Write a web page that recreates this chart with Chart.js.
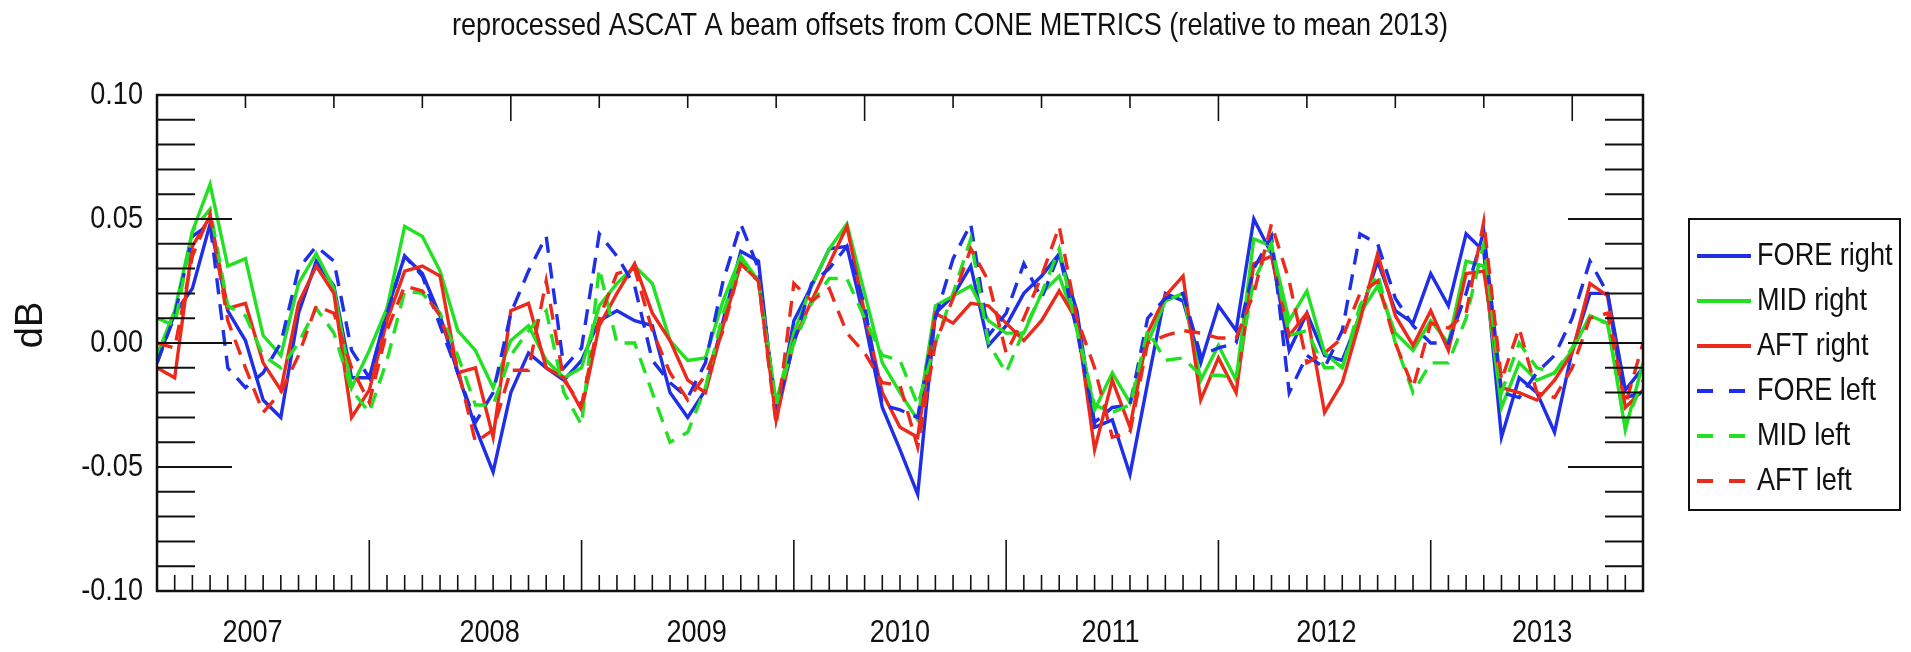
<!DOCTYPE html>
<html>
<head>
<meta charset="utf-8">
<script src="https://cdn.jsdelivr.net/npm/chart.js@4"></script>
<style>
html,body{margin:0;padding:0;background:#fff;}
#wrap{width:1911px;height:652px;}
</style>
</head>
<body>
<div id="wrap"><canvas id="c" width="1911" height="652"></canvas></div>
<script>
// ---- data (monthly, month index 0 = Jan 2007) ----
const seriesNames = ['FORE right','MID right','AFT right','FORE left','MID left','AFT left'];

const foreRight = [-0.008,0.012,0.022,0.048,0.013,0.001,-0.023,-0.030,0.012,0.033,0.023,-0.014,-0.014,0.013,0.035,
 0.028,0.011,-0.012,-0.034,-0.052,-0.020,-0.004,-0.010,-0.015,-0.007,0.009,0.013,0.009,0.007,
 -0.020,-0.030,-0.019,0.009,0.037,0.033,-0.030,0.009,0.023,0.038,0.039,0.009,-0.026,-0.043,
 -0.061,0.012,0.019,0.031,-0.001,0.007,0.020,0.027,0.036,0.013,-0.034,-0.031,-0.053,-0.016,
 0.020,0.017,-0.008,0.015,0.005,0.050,0.036,-0.003,0.012,-0.005,-0.007,0.011,0.033,0.013,
 0.008,0.028,0.015,0.044,0.037,-0.038,-0.014,-0.020,-0.036,-0.003,0.020,0.020,-0.019,-0.010];

const midRight = [-0.005,0.013,0.045,0.064,0.031,0.034,0.003,-0.005,0.024,0.036,0.022,-0.018,-0.003,0.014,0.047,
 0.043,0.029,0.005,-0.003,-0.018,0.001,0.007,-0.007,-0.014,-0.010,0.015,0.024,0.031,0.024,
 0.001,-0.007,-0.006,0.017,0.035,0.025,-0.024,0.004,0.023,0.038,0.048,0.020,-0.008,-0.020,
 -0.031,0.015,0.019,0.023,0.009,0.004,0.004,0.020,0.027,0.007,-0.027,-0.012,-0.024,0.000,
 0.017,0.020,-0.015,-0.001,-0.015,0.042,0.039,0.009,0.021,-0.004,-0.010,0.012,0.023,0.004,
 -0.003,0.009,0.000,0.033,0.031,-0.026,-0.008,-0.015,-0.012,-0.003,0.011,0.008,-0.035,-0.008];

const aftRight = [-0.010,-0.014,0.039,0.051,0.014,0.016,-0.008,-0.019,0.016,0.031,0.020,-0.030,-0.019,0.009,0.029,
 0.031,0.027,-0.012,-0.010,-0.038,0.013,0.016,-0.010,-0.014,-0.027,0.007,0.020,0.032,0.012,
 0.001,-0.015,-0.020,0.007,0.032,0.025,-0.031,0.001,0.017,0.032,0.047,0.012,-0.020,-0.034,
 -0.038,0.012,0.008,0.016,0.015,0.008,0.001,0.009,0.021,0.009,-0.043,-0.015,-0.034,0.004,
 0.019,0.027,-0.023,-0.006,-0.020,0.032,0.035,0.003,0.012,-0.028,-0.016,0.009,0.036,0.011,
 -0.001,0.013,-0.003,0.028,0.029,-0.018,-0.020,-0.023,-0.015,-0.004,0.024,0.019,-0.026,-0.019];

const foreLeft = [-0.008,0.011,0.043,0.048,-0.010,-0.018,-0.012,0.000,0.030,0.039,0.033,-0.003,-0.014,0.012,0.035,
 0.027,0.007,-0.012,-0.032,-0.020,0.012,0.029,0.043,-0.010,-0.002,0.044,0.035,0.023,-0.007,
 -0.016,-0.022,-0.008,0.025,0.048,0.030,-0.028,0.000,0.024,0.030,0.039,0.015,-0.025,-0.027,
 -0.030,0.010,0.034,0.048,0.003,0.012,0.032,0.018,0.036,0.005,-0.032,-0.026,-0.025,0.010,
 0.018,0.020,-0.005,-0.002,0.000,0.030,0.043,-0.020,-0.005,-0.010,0.005,0.044,0.040,0.018,
 0.007,0.000,0.000,0.020,0.045,-0.020,-0.022,-0.012,-0.005,0.010,0.033,0.020,-0.022,-0.020];

const midLeft = [0.010,0.007,0.045,0.054,0.015,0.011,-0.005,-0.010,0.000,0.014,0.004,-0.019,-0.028,-0.007,0.021,
 0.020,0.012,-0.005,-0.025,-0.025,-0.005,0.005,0.013,-0.020,-0.033,0.030,0.000,0.000,-0.020,
 -0.040,-0.036,-0.018,0.012,0.033,0.025,-0.025,0.000,0.016,0.026,0.026,0.010,-0.005,-0.007,
 -0.025,0.000,0.020,0.042,0.000,-0.012,0.005,0.020,0.038,0.005,-0.025,-0.028,-0.025,0.005,
 -0.007,-0.006,-0.013,-0.013,-0.014,0.025,0.040,0.003,0.005,-0.010,-0.010,0.015,0.028,0.000,
 -0.020,-0.008,-0.008,0.010,0.040,-0.020,0.000,-0.010,-0.012,-0.002,0.010,0.008,-0.033,-0.015];

const aftLeft = [0.000,-0.002,0.035,0.052,0.009,-0.010,-0.028,-0.020,-0.005,0.015,0.012,-0.010,-0.024,0.005,0.023,
 0.021,0.011,-0.010,-0.040,-0.035,-0.011,-0.011,0.025,-0.015,-0.025,0.010,0.028,0.030,0.005,
 -0.012,-0.023,-0.013,0.005,0.032,0.025,-0.033,0.024,0.017,0.022,0.004,-0.004,-0.016,-0.017,
 -0.042,0.000,0.018,0.038,0.025,-0.004,0.010,0.027,0.047,0.010,-0.010,-0.038,-0.036,0.000,
 0.003,0.005,0.004,0.002,0.002,0.020,0.048,0.025,-0.008,-0.004,0.002,0.020,0.025,0.000,
 -0.018,0.008,0.006,0.012,0.049,-0.015,0.006,-0.020,-0.022,-0.010,0.010,0.012,-0.025,0.000];

const yearLabels  = ['2007','2008','2009','2010','2011','2012','2013'];
const yearLabelAt = [5.4, 18.8, 30.5, 42.0, 53.9, 66.1, 78.3];   // month index of each year label
const yTickValues = [-0.10, -0.05, 0.00, 0.05, 0.10];
const titleText = 'reprocessed ASCAT A beam offsets from CONE METRICS (relative to mean 2013)';
const yAxisTitle = 'dB';

// ---- styling ----
const BLUE = '#1f2fe8', GREEN = '#22e022', RED = '#ec2a1c';
const FONT = "32px 'Liberation Sans', Arial, sans-serif";
const DASH = [16, 10];
const allSeries = [foreRight, midRight, aftRight, foreLeft, midLeft, aftLeft];
const colors = [BLUE, GREEN, RED, BLUE, GREEN, RED];
const dashes = [[], [], [], DASH, DASH, DASH];

const datasets = allSeries.map((vals, i) => ({
  label: seriesNames[i],
  data: vals.map((v, k) => ({x: k, y: v})),
  borderColor: colors[i],
  backgroundColor: colors[i],
  borderWidth: 3.4,
  borderDash: dashes[i],
  pointRadius: 0,
  tension: 0,
  fill: false,
  order: -i
}));

// narrow (condensed) text helper
function narrowText(ctx, text, x, y, align, sx) {
  ctx.save();
  ctx.translate(x, y);
  ctx.scale(sx, 1);
  ctx.textAlign = align;
  ctx.textBaseline = 'middle';
  ctx.fillText(text, 0, 0);
  ctx.restore();
}

const framePlugin = {
  id: 'frame',
  afterDraw(chart) {
    const ctx = chart.ctx, a = chart.chartArea;
    const xs = chart.scales.x, ys = chart.scales.y;
    ctx.save();
    ctx.font = FONT;
    const sx = 996 / ctx.measureText(titleText).width;
    ctx.strokeStyle = '#111';
    // y minor / major ticks, left and right
    ctx.lineWidth = 2;
    for (let k = -9; k <= 9; k++) {
      const y = ys.getPixelForValue(k / 100);
      const len = (k % 5 === 0) ? 75 : 38;
      ctx.beginPath(); ctx.moveTo(a.left, y); ctx.lineTo(a.left + len, y); ctx.stroke();
      ctx.beginPath(); ctx.moveTo(a.right, y); ctx.lineTo(a.right - len, y); ctx.stroke();
    }
    // bottom monthly ticks
    ctx.lineWidth = 1.6;
    for (let m = 1; m < 84; m++) {
      const x = xs.getPixelForValue(m);
      const len = (m % 12 === 0) ? 51 : 16;
      ctx.beginPath(); ctx.moveTo(x, a.bottom); ctx.lineTo(x, a.bottom - len); ctx.stroke();
    }
    // top ticks every 5 months
    for (let m = 5; m < 84; m += 5) {
      const x = xs.getPixelForValue(m);
      const len = (m % 20 === 0) ? 26 : 13;
      ctx.beginPath(); ctx.moveTo(x, a.top); ctx.lineTo(x, a.top + len); ctx.stroke();
    }
    // frame
    ctx.lineWidth = 2.5;
    ctx.strokeRect(a.left, a.top, a.right - a.left, a.bottom - a.top);

    ctx.fillStyle = '#111';
    // tick labels
    ys.ticks.forEach(t => narrowText(ctx, t.value.toFixed(2), a.left - 14, ys.getPixelForValue(t.value), 'right', sx));
    xs.ticks.forEach((t, i) => narrowText(ctx, yearLabels[i], xs.getPixelForValue(t.value), 633, 'center', sx));

    // title
    narrowText(ctx, titleText, 950, 26, 'center', sx);

    // y axis title
    ctx.save();
    ctx.font = "38px 'Liberation Sans', Arial, sans-serif";
    ctx.translate(32, 325);
    ctx.rotate(-Math.PI / 2);
    ctx.textAlign = 'center';
    ctx.textBaseline = 'middle';
    ctx.fillText(yAxisTitle, 0, 0);
    ctx.restore();

    // legend
    const lx = 1689, ly = 219, lw = 211, lh = 291;
    ctx.lineWidth = 2;
    ctx.strokeStyle = '#111';
    ctx.strokeRect(lx, ly, lw, lh);
    chart.data.datasets.forEach((ds, i) => {
      const y = 256 + i * 45;
      ctx.save();
      ctx.strokeStyle = ds.borderColor;
      ctx.lineWidth = 4;
      ctx.setLineDash(ds.borderDash.length ? [16, 16] : []);
      ctx.beginPath(); ctx.moveTo(1697, y); ctx.lineTo(1751, y); ctx.stroke();
      ctx.restore();
      narrowText(ctx, ds.label, 1757, y, 'left', sx);
    });
    ctx.restore();
  }
};

new Chart(document.getElementById('c'), {
  type: 'line',
  data: { datasets },
  options: {
    responsive: false,
    animation: false,
    devicePixelRatio: 1,
    layout: { padding: { top: 95, right: 268, left: 0, bottom: 0 } },
    plugins: { legend: { display: false }, tooltip: { enabled: false }, title: { display: false } },
    scales: {
      x: {
        type: 'linear', min: 0, max: 84,
        grid: { display: false, drawTicks: false },
        border: { display: false },
        afterBuildTicks: s => { s.ticks = yearLabelAt.map(v => ({ value: v })); },
        afterFit: s => { s.height = 61; },
        ticks: { display: false, autoSkip: false, callback: (v, idx) => yearLabels[idx] }
      },
      y: {
        min: -0.1, max: 0.1,
        grid: { display: false, drawTicks: false },
        border: { display: false },
        afterBuildTicks: s => { s.ticks = yTickValues.map(v => ({ value: v })); },
        afterFit: s => { s.width = 157; },
        ticks: { display: false, callback: v => v.toFixed(2) },
        title: { display: false, text: yAxisTitle }
      }
    }
  },
  plugins: [framePlugin]
});
</script>
</body>
</html>
